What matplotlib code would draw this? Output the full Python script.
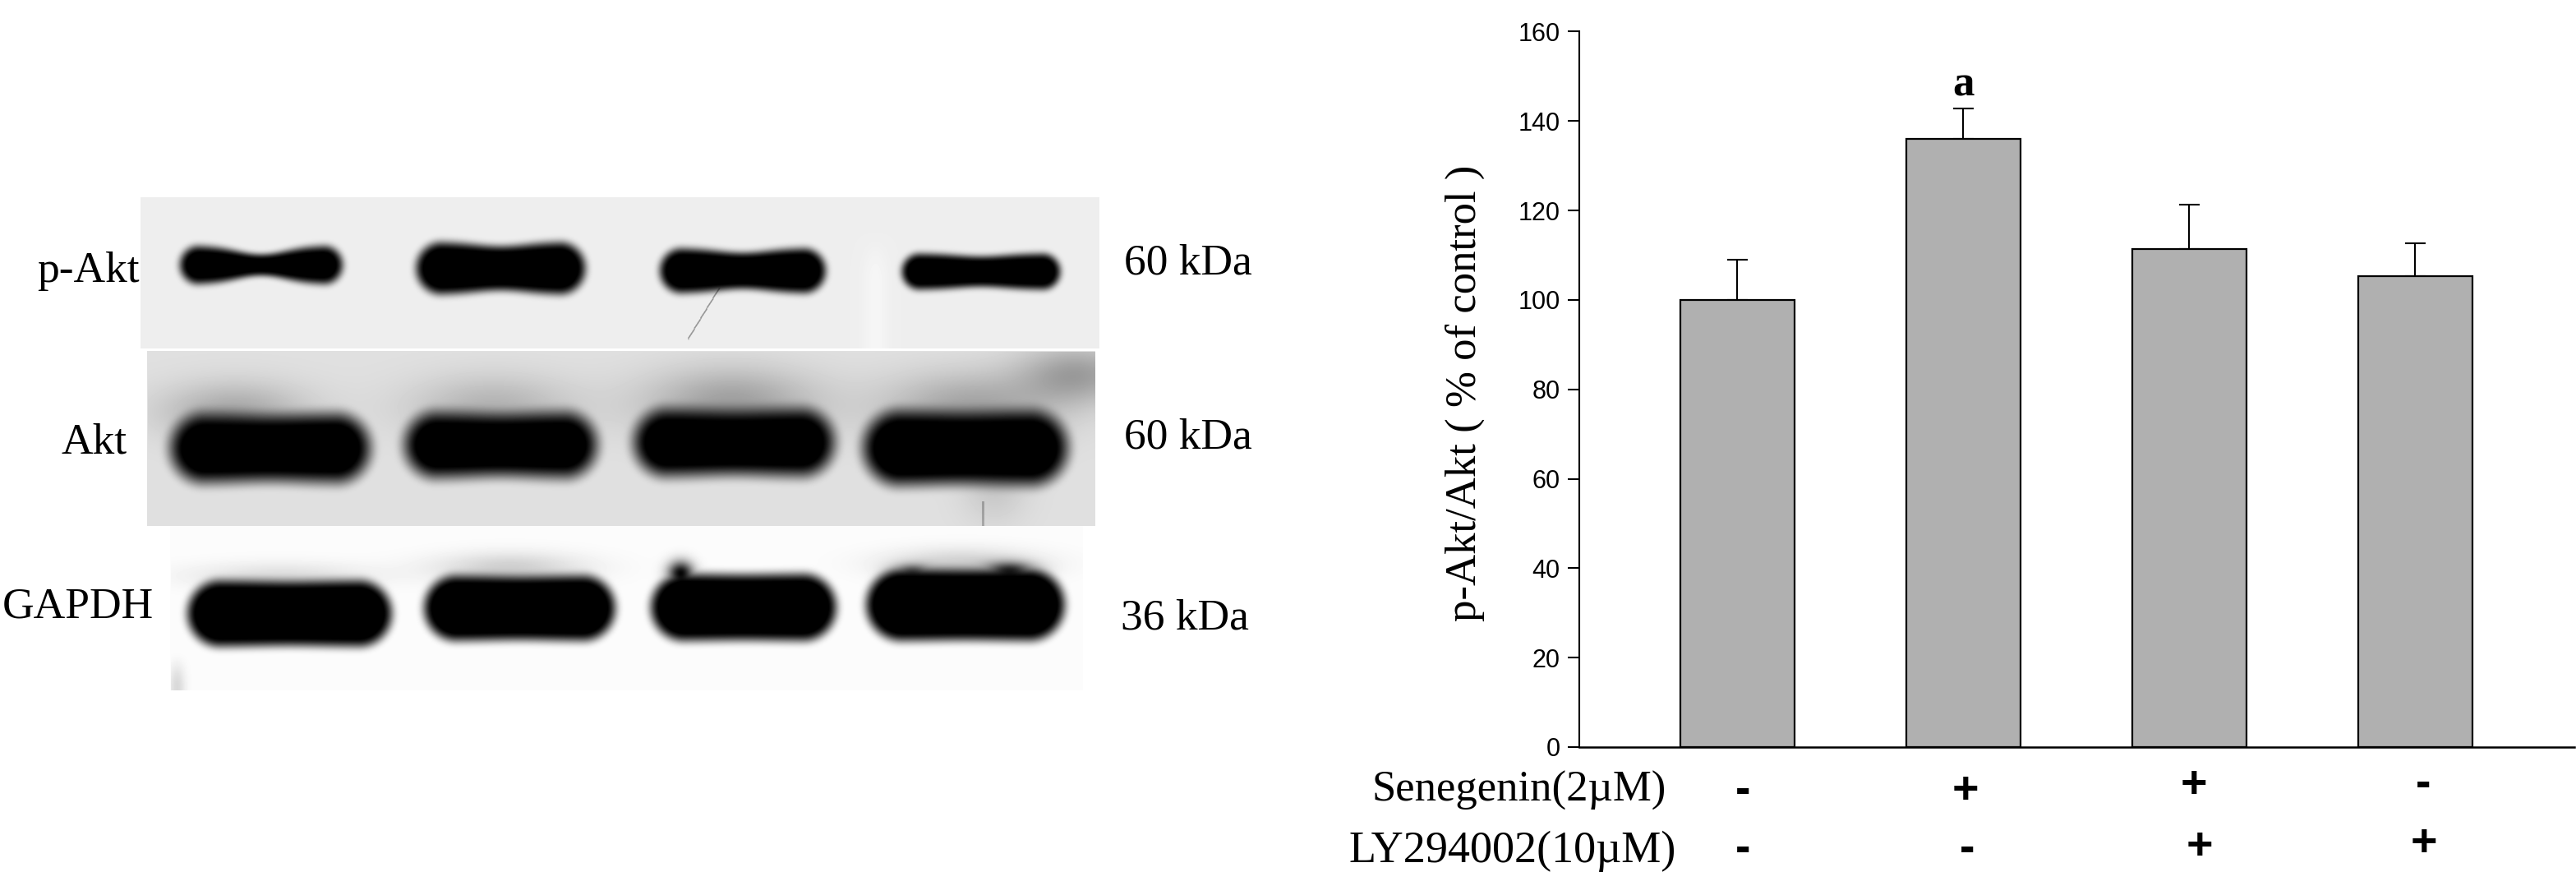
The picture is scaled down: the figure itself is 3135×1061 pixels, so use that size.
import numpy as np
import matplotlib
matplotlib.use("Agg")
import matplotlib.pyplot as plt

# ---- chart data ----
values = [100, 136, 111.3, 105.3]
err_tops = [109, 142.8, 121.3, 112.6]
y_ticks = [0, 20, 40, 60, 80, 100, 120, 140, 160]
senegenin = ['-', '+', '+', '-']
ly294002 = ['-', '-', '+', '+']
protein_labels = ['p-Akt', 'Akt', 'GAPDH']
mass_labels = ['60 kDa', '60 kDa', '36 kDa']

W, H = 3135, 1061
fig = plt.figure(figsize=(W / 100, H / 100), dpi=100, facecolor='white')

ov = fig.add_axes([0, 0, 1, 1])
ov.set_xlim(0, W)
ov.set_ylim(H, 0)
ov.axis('off')


def smooth(e0, e1, v):
    t = np.clip((v - e0) / (e1 - e0), 0, 1)
    return t * t * (3 - 2 * t)


def blur(a, r):
    w = np.exp(-0.5 * (np.arange(-2 * r, 2 * r + 1) / r) ** 2)
    w /= w.sum()
    out = np.zeros_like(a)
    for k, wk in zip(range(-2 * r, 2 * r + 1), w):
        out += wk * np.roll(a, k, axis=0)
    a = out
    out = np.zeros_like(a)
    for k, wk in zip(range(-2 * r, 2 * r + 1), w):
        out += wk * np.roll(a, k, axis=1)
    return out


yy, xx = np.mgrid[0:H, 0:1560]
img = np.full(xx.shape, 255.0)

panels = [(171, 1338, 240, 424, 238), (179, 1333, 427, 640, 224), (207, 1318, 640, 840, 252)]
for x0, x1, y0, y1, g in panels:
    img[y0:y1, x0:x1] = g

m = (xx > 179) & (xx < 1333) & (yy > 427) & (yy < 640)
corner = np.exp(-(((xx - 1310) / 70.0) ** 2 + ((yy - 455) / 35.0) ** 2))
img[m] -= 65 * corner[m]
for cx, cy, sx, sy, a in [(285, 500, 90, 35, 55), (600, 495, 100, 38, 45), (890, 490, 105, 42, 65),
                          (1180, 495, 105, 42, 60), (1210, 590, 40, 45, 25)]:
    img -= a * np.exp(-(((xx - cx) / sx) ** 2 + ((yy - cy) / sy) ** 2)) * m
m3 = (xx > 207) & (xx < 1318) & (yy > 640) & (yy < 840)
for cx, cy, sx, sy, a in [(340, 700, 110, 16, 30), (620, 690, 90, 18, 45), (1170, 685, 90, 18, 45)]:
    img -= a * np.exp(-(((xx - cx) / sx) ** 2 + ((yy - cy) / sy) ** 2)) * m3
img[m3] -= (35 * np.exp(-((xx - 215) / 10.0) ** 2) * smooth(790, 835, yy))[m3]

for t in np.linspace(0, 1, 120):
    px, py = int(875 - 38 * t), int(350 + 62 * t)
    img[py:py + 2, px:px + 2] -= 22
img[610:640, 1195:1198] -= 50
m1 = (xx > 171) & (xx < 1338) & (yy > 240) & (yy < 424)
img[m1] += 8 * np.exp(-((xx - 1065) / 14.0) ** 2)[m1] * smooth(280, 340, yy)[m1]

# bands: x0, x1, y0, y1, waist depth, softness
bands = [
    (222, 413, 302, 342, 0.45, 7), (510, 708, 298, 354, 0.16, 8), (806, 1001, 305, 353, 0.20, 7), (1100, 1287, 311, 349, 0.16, 6),
    (214, 443, 510, 580, 0.05, 14), (499, 719, 508, 574, 0.06, 14), (778, 1008, 504, 572, 0.05, 14), (1057, 1292, 506, 583, 0.04, 14),
    (232, 472, 710, 782, 0.03, 9), (520, 744, 704, 775, 0.03, 9), (796, 1013, 702, 775, 0.02, 9), (1058, 1291, 696, 775, 0.02, 9),
]
dark = np.zeros(xx.shape)
for x0, x1, y0, y1, waist, soft in bands:
    cx, cy = (x0 + x1) / 2, (y0 + y1) / 2
    hw, hh = (x1 - x0) / 2, (y1 - y0) / 2
    hh_x = hh * (1 - waist * np.exp(-((xx - cx) / (0.45 * hw)) ** 2))
    r = min(hw, hh) * 1.0
    dx = np.maximum(np.abs(xx - cx) - (hw - r), 0) / r
    dy = np.abs(yy - cy) / hh_x
    d = np.where(np.abs(xx - cx) > hw - r, np.sqrt(dx ** 2 + dy ** 2), dy)
    dist = (d - 1) * hh
    dark = np.maximum(dark, 1 - smooth(-soft * 0.7, soft * 1.5, dist))
dark = np.maximum(dark, np.exp(-(((xx - 828) / 15.0) ** 2 + ((yy - 697) / 14.0) ** 2)))
dark = np.maximum(dark, 0.9 * np.exp(-(((xx - 1228) / 30.0) ** 2 + ((yy - 694) / 10.0) ** 2)))
dark = np.maximum(dark, 0.8 * np.exp(-(((xx - 1110) / 25.0) ** 2 + ((yy - 696) / 9.0) ** 2)))
dark = blur(dark, 3)
img = np.clip(img * (1 - np.clip(dark * 1.05, 0, 1)), 0, 255)
ov.imshow(img, cmap='gray', vmin=0, vmax=255, extent=(0, 1560, H, 0), aspect='auto',
          interpolation='bilinear', zorder=1)
ov.set_xlim(0, W)
ov.set_ylim(H, 0)

serif = 'Liberation Serif'
for label, x, y in zip(protein_labels, [170, 155, 187], [330, 538, 739]):
    ov.text(x, y, label, family=serif, fontsize=38.5, ha='right', va='center', zorder=3)
for label, x, y in zip(mass_labels, [1368, 1368, 1364], [320, 533, 752]):
    ov.text(x, y, label, family=serif, fontsize=38.5, ha='left', va='center', zorder=3)

ax = fig.add_axes([1922 / W, 1 - 909 / H, (3133 - 1922) / W, (909 - 38.5) / H])
ax.patch.set_alpha(0)
pos = np.arange(1, 5)
errs = [t - v for t, v in zip(err_tops, values)]
ax.bar(pos, values, width=0.505, color='#b0b0b0', edgecolor='black', linewidth=1.6, zorder=2)
ax.errorbar(pos, values, yerr=[[0] * 4, errs], fmt='none', ecolor='black', elinewidth=1.5,
            capsize=9, capthick=1.5, zorder=1)
ax.set_xlim(0.3, 4.705)
ax.set_ylim(0, 160)
ax.set_yticks(y_ticks)
ax.set_xticks([])
ax.tick_params(axis='y', length=10, width=1.5, labelsize=22, pad=7)
for t in ax.get_yticklabels():
    t.set_family('Liberation Sans')
ax.spines['top'].set_visible(False)
ax.spines['right'].set_visible(False)
ax.spines['left'].set_linewidth(1.5)
ax.spines['bottom'].set_linewidth(1.8)
ax.text(2, 148, 'a', family=serif, fontsize=38, fontweight='bold', ha='center', va='center')

ov.text(1783, 478, 'p-Akt/Akt ( % of control )', family=serif, fontsize=38, rotation=90,
        ha='center', va='center', zorder=3)
ov.text(2028, 962, 'Senegenin(2µM)', family=serif, fontsize=38, ha='right', va='center', zorder=3)
ov.text(2040, 1036, 'LY294002(10µM)', family=serif, fontsize=39, ha='right', va='center', zorder=3)

for s, x, y in zip(senegenin, [2121, 2392, 2670, 2949], [963, 963, 956, 955]):
    ov.text(x, y, s, family='Liberation Sans', fontweight='bold', fontsize=40, ha='center', va='center', zorder=3)
for s, x, y in zip(ly294002, [2121, 2394, 2677, 2950], [1034, 1034, 1031, 1027]):
    ov.text(x, y, s, family='Liberation Sans', fontweight='bold', fontsize=40, ha='center', va='center', zorder=3)

fig.savefig('out.png', dpi=100, facecolor='white')
